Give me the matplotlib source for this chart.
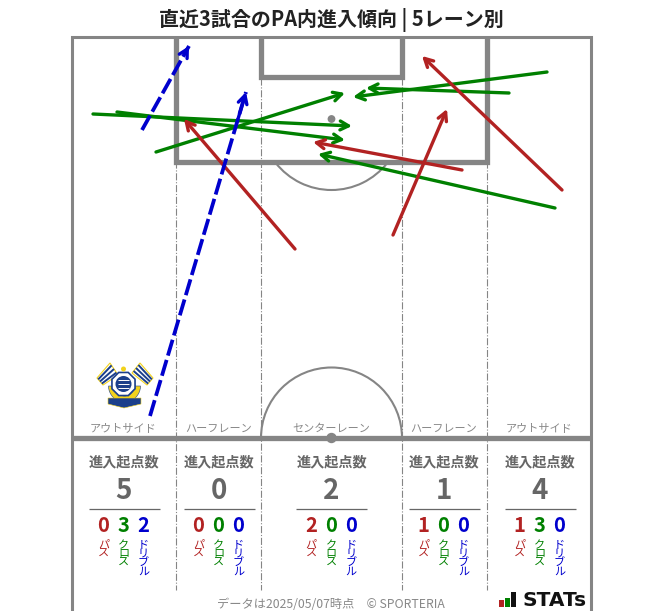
import matplotlib
matplotlib.use('Agg')
import matplotlib.pyplot as plt
from matplotlib.patches import Arc, Polygon, Circle, RegularPolygon, Wedge, Rectangle

plt.rcParams['font.family'] = ['Noto Sans CJK JP', 'DejaVu Sans']
plt.rcParams['lines.solid_capstyle'] = 'butt'

RED = '#b22222'
GREEN = '#008000'
BLUE = '#0000cd'
GRAY = '#858585'
TEXT = '#666666'

lane_names = ['アウトサイド', 'ハーフレーン', 'センターレーン', 'ハーフレーン', 'アウトサイド']
lane_x = [123.5, 218.5, 331, 443.5, 539.5]
pass_counts = [0, 0, 2, 1, 1]
cross_counts = [3, 0, 0, 0, 3]
dribble_counts = [2, 0, 0, 0, 0]
total_counts = [5, 0, 2, 1, 4]

# start x, start y, end x, end y (pixels of the picture)
pass_arrows = [(295, 249, 184, 119), (393, 235, 447, 109),
               (462, 170, 313, 142), (562, 190, 422, 56)]
cross_arrows = [(93, 114, 352, 126), (117, 112, 345, 140), (156, 152, 345, 93),
                (547, 72, 353, 97), (509, 93, 366, 88), (555, 208, 318, 154)]
dribble_arrows = [(142, 130, 189, 46), (150, 416, 246, 92)]

fig = plt.figure(figsize=(6.63, 6.11), dpi=100)
ax = fig.add_axes([0, 0, 1, 1])
ax.set_xlim(0, 663)
ax.set_ylim(611, 0)
ax.axis('off')

# pitch
ax.plot([71.5, 71.5, 591, 591], [620, 37, 37, 620], color=GRAY, lw=2.2, solid_joinstyle='miter')
ax.plot([71.5, 591], [438, 438], color=GRAY, lw=3.8)
ax.plot([175.5, 175.5, 486.5, 486.5], [37, 161.5, 161.5, 37], color=GRAY, lw=3.8, solid_joinstyle='miter')
ax.plot([260.5, 260.5, 402, 402], [37, 77, 77, 37], color=GRAY, lw=3.8, solid_joinstyle='miter')
ax.add_patch(Arc((331.5, 119), 142, 142, theta1=38, theta2=142, color=GRAY, lw=1.5))
ax.add_patch(Arc((331.5, 438), 141, 141, theta1=180, theta2=360, color=GRAY, lw=1.5))
ax.add_patch(Circle((331.5, 119), 3.2, color=GRAY))
ax.add_patch(Circle((331.5, 438), 4.5, color=GRAY, zorder=3))
for x, top in [(175.5, 161), (260.5, 78), (402, 78), (486.5, 161)]:
    ax.plot([x, x], [top, 590], color=GRAY, lw=0.8, ls='-.')


def draw_arrow(arrow, color, dashed=False):
    x0, y0, x1, y1 = arrow
    if dashed:
        ax.plot([x0, x1], [y0, y1], color=color, lw=2.7, dashes=(4.4, 1.2), zorder=5)
        x0, y0 = x1 - (x1 - x0) * 0.08, y1 - (y1 - y0) * 0.08
    ax.annotate('', xy=(x1, y1), xytext=(x0, y0), zorder=5,
                arrowprops=dict(arrowstyle='->,head_length=0.6,head_width=0.32', color=color,
                                lw=2.4, shrinkA=0, shrinkB=0))


for a in cross_arrows:
    draw_arrow(a, GREEN)
for a in pass_arrows:
    draw_arrow(a, RED)
for a in dribble_arrows:
    draw_arrow(a, BLUE, dashed=True)

# crest
navy = '#1b3f8b'
gold = '#f2d21b'
ax.add_patch(Polygon([(97, 378), (110, 363), (118, 375), (103, 385)], fc='white', ec=gold, lw=0.8))
ax.add_patch(Polygon([(153, 378), (140, 363), (132, 373), (147, 385)], fc='white', ec=gold, lw=0.8))
for t in [0.2, 0.5, 0.8]:
    ax.plot([97 + 6 * t, 110 + 8 * t], [378 + 7 * t, 363 + 12 * t], color=navy, lw=1.4)
    ax.plot([153 - 6 * t, 140 - 8 * t], [378 + 7 * t, 363 + 10 * t], color=navy, lw=1.4)
ax.add_patch(Wedge((124.5, 386), 16, 0, 180, width=6, fc=gold, ec=navy, lw=0.4))
ax.add_patch(Polygon([(108, 398), (141, 398), (141, 404), (124, 408), (108, 404)], fc=navy, ec=gold, lw=0.4))
ax.add_patch(RegularPolygon((123.5, 384), 8, radius=12.5, orientation=0.39, fc='white', ec=navy, lw=1.2))
ax.add_patch(Circle((123.5, 384), 8, fc=navy, ec='none'))
for y in [380, 384, 388]:
    ax.plot([118, 129], [y, y], color='white', lw=0.7)
ax.add_patch(Circle((123.5, 369), 2.5, fc=gold, ec='none'))

# lane table
for i, x in enumerate(lane_x):
    ax.text(x, 428.5, lane_names[i], ha='center', va='center', fontsize=8, color='#888888')
    ax.text(x + 0.5, 462, '進入起点数', ha='center', va='center', fontsize=10.2, color=TEXT, fontweight='bold')
    ax.text(x, 491, str(total_counts[i]), ha='center', va='center', fontsize=20, color=TEXT, fontweight='bold')
    ax.plot([x - 35, x + 36], [508.5, 508.5], color=TEXT, lw=0.9)
    columns = zip([-20, 0, 20], [pass_counts[i], cross_counts[i], dribble_counts[i]],
                  [RED, GREEN, BLUE], ['パス', 'クロス', 'ドリブル'])
    for dx, n, c, label in columns:
        ax.text(x + dx, 526, str(n), ha='center', va='center', fontsize=14.5, color=c, fontweight='bold')
        ax.text(x + dx, 540, '\n'.join(label), ha='center', va='top', fontsize=8, color=c, linespacing=0.88)

ax.text(331, 19.5, '直近3試合のPA内進入傾向 | 5レーン別', ha='center', va='center',
        fontsize=14.4, fontweight='bold', color='#222222')
ax.text(331, 604, 'データは2025/05/07時点　© SPORTERIA', ha='center', va='center', fontsize=8.8, color='#888888')

# STATs logo
ax.add_patch(Rectangle((499, 600), 5, 7, fc=RED, ec='none'))
ax.add_patch(Rectangle((505, 598), 5, 9, fc=GREEN, ec='none'))
ax.add_patch(Rectangle((511, 592), 5, 15, fc='#111111', ec='none'))
ax.text(522, 600, 'STATs', ha='left', va='center', fontsize=14.5, fontweight='bold', color='#111111',
        family='DejaVu Sans')

fig.savefig('out.png', dpi=100)
